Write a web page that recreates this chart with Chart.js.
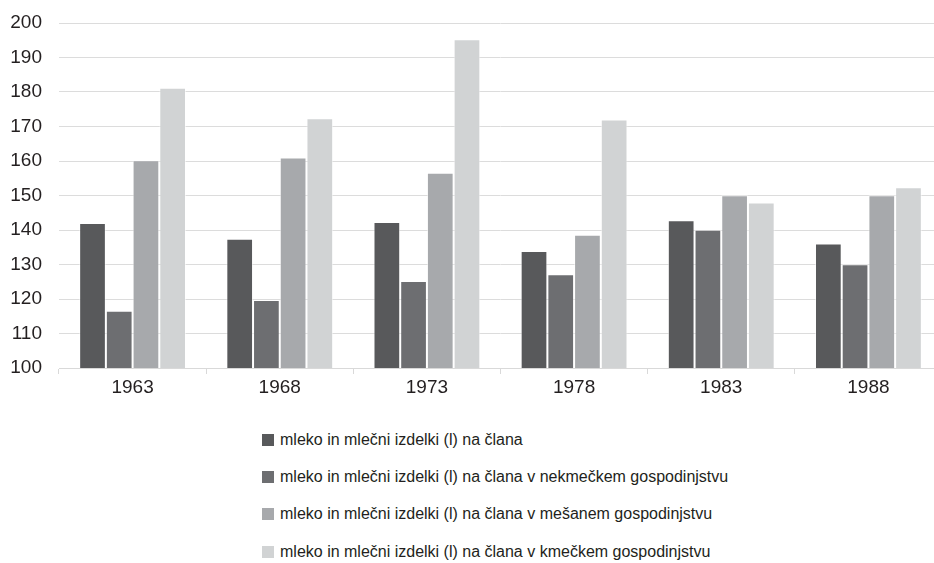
<!DOCTYPE html>
<html>
<head>
<meta charset="utf-8">
<script src="https://cdn.jsdelivr.net/npm/chart.js@4"></script>
<style>
  html, body { margin: 0; padding: 0; background: #fff; overflow: hidden; }
  #wrap { position: relative; width: 934px; height: 563px; overflow: hidden; }
  #chart-box { position: absolute; left: 0; top: 0; width: 942px; height: 400px; }
  #legend { position: absolute; left: 262px; top: 421px; margin: 0; padding: 0; list-style: none;
    font-family: 'Liberation Sans', Arial, sans-serif; font-size: 16px; color: #231f20; }
  #legend li { height: 37.3px; display: flex; align-items: center; white-space: nowrap; }
  #legend .sw { display: inline-block; width: 12px; height: 12px; margin-right: 6px; }
</style>
</head>
<body>
<div id="wrap">
  <div id="chart-box"><canvas id="milk-chart"></canvas></div>
  <ul id="legend"></ul>
</div>
<script>
// ─── DATA ─────────────────────────────────────────────────
const years = ['1963', '1968', '1973', '1978', '1983', '1988'];
const perMember = [142.0, 137.5, 142.3, 133.9, 142.8, 136.1];
const nonFarm   = [116.6, 119.7, 125.2, 127.2, 140.1, 130.1];
const mixed     = [160.2, 161.0, 156.6, 138.6, 150.1, 150.1];
const farm      = [181.2, 172.4, 195.3, 172.0, 148.0, 152.4];
const seriesNames = [
    'mleko in mlečni izdelki (l) na člana',
    'mleko in mlečni izdelki (l) na člana v nekmečkem gospodinjstvu',
    'mleko in mlečni izdelki (l) na člana v mešanem gospodinjstvu',
    'mleko in mlečni izdelki (l) na člana v kmečkem gospodinjstvu'
];
const yTicks = [100, 110, 120, 130, 140, 150, 160, 170, 180, 190, 200];

const colors = ['#58595b', '#6d6e71', '#a7a9ac', '#d1d3d4'];
const seriesValues = [perMember, nonFarm, mixed, farm];

// ─── CHART ────────────────────────────────────────────────
const tickFont = { family: 'Liberation Sans', size: 19 };

new Chart(document.getElementById('milk-chart'), {
    type: 'bar',
    data: {
        labels: years,
        datasets: seriesValues.map((vals, i) => ({
            label: seriesNames[i],
            data: vals,
            backgroundColor: colors[i],
            borderColor: 'rgba(255,255,255,0.55)',
            borderWidth: 1,
            categoryPercentage: 0.726,
            barPercentage: 1,
        }))
    },
    options: {
        responsive: true, maintainAspectRatio: false,
        animation: false,
        layout: { padding: { top: 23, left: 0, right: 0, bottom: 0 } },
        plugins: { legend: { display: false }, tooltip: { enabled: false } },
        scales: {
            x: {
                offset: true,
                grid: { offset: true, drawOnChartArea: false, drawTicks: true, tickLength: 6, color: '#d9d9d9' },
                border: { color: '#d9d9d9' },
                ticks: { font: tickFont, color: '#231f20', padding: 2, maxRotation: 0 },
                afterFit: s => { s.height = 32; },
            },
            y: {
                min: 100, max: 200,
                afterBuildTicks: s => { s.ticks = yTicks.map(v => ({ value: v })); },
                grid: { color: '#dcdcdc', lineWidth: 1, drawTicks: false },
                border: { display: false },
                ticks: { font: tickFont, color: '#231f20', padding: 17 },
                // tick padding would otherwise push the plot top down
                afterFit: s => { s.width = 59; s.paddingTop = 0; s.paddingBottom = 0; },
            }
        }
    }
});

// ─── LEGEND ───────────────────────────────────────────────
document.getElementById('legend').innerHTML = seriesNames.map((name, i) => `
    <li><span class="sw" style="background:${colors[i]}"></span>${name}</li>
`).join('');
</script>
</body>
</html>
